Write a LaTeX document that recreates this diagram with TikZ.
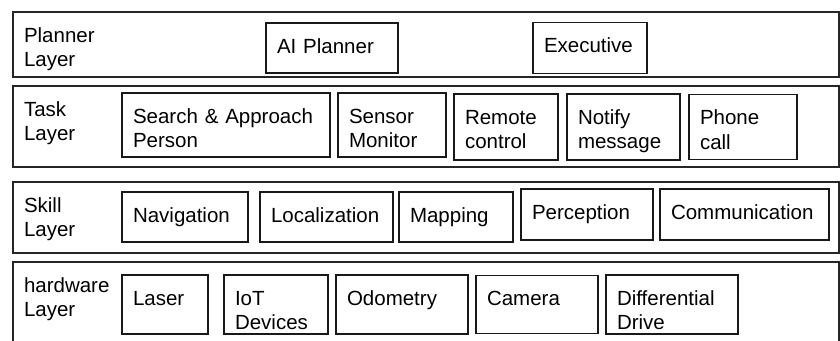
\documentclass[tikz,border=0pt]{standalone}
\usepackage{fontspec}
\setmainfont{Liberation Sans}
\usetikzlibrary{positioning}
\tikzset{layer node/.style={draw=black!85, line width=1.5pt, anchor=north west, inner xsep=11pt, inner ysep=0pt, outer sep=0pt, align=left, text width=804pt, text height=30pt},
         part node/.style 2 args={draw=black!90, line width=1.5pt, inner xsep=11pt, inner ysep=0pt, outer sep=0pt, align=left, text height=30pt, text width=#1, text depth=#2},}

\begin{document}
\begin{tikzpicture}[x=1pt, y=-1pt, font=\fontsize{20.5}{24.5}\selectfont]
        \useasboundingbox (0,0) rectangle (840,340);
        \clip (0,0) rectangle (840,340);
        % Layers
        \node[layer node, text depth=35pt] (planner) at (13,12) {Planner\\Layer};
        \node[layer node, text depth=51pt] (task) at (13,86) {Task\\Layer};
        \node[layer node, text depth=41pt] (skill) at (13,182) {Skill\\Layer};
        \node[layer node, text depth=60pt] (hardware) at (13,262) {hardware\\Layer};
        % Planner layer
        \node[part node={110pt}{20pt}, anchor=north west] (aiplanner) at (266,23) {AI Planner};
        \node[part node={92pt}{21pt}] [right = 135pt of aiplanner] (executive) {Executive};
        % Task layer
        \node[part node={186pt}{34pt}, anchor=north west] (search) at (122,93) {Search~\&~Approach\\Person};
        \node[part node={86pt}{34pt}] [right = 8pt of search] (sensor) {Sensor\\Monitor};
        \node[part node={82pt}{36pt}] [right = 8pt of sensor, yshift=-2pt] (remote) {Remote\\control};
        \node[part node={91pt}{36pt}] [right = 9pt of remote] (notify) {Notify\\message};
        \node[part node={86pt}{35pt}] [right = 9pt of notify] (phone) {Phone\\call};
        % Skill layer
        \node[part node={104pt}{20pt}, anchor=north west] (navigation) at (122,192) {Navigation};
        \node[part node={111pt}{20pt}] [right = 12pt of navigation] (localization) {Localization};
        \node[part node={92pt}{20pt}] [right = 6pt of localization] (mapping) {Mapping};
        \node[part node={110pt}{21pt}] [right = 8pt of mapping, yshift=2.5pt] (perception) {Perception};
        \node[part node={147pt}{21pt}] [right = 7pt of perception] (communication) {Communication};
        % Hardware layer
        \node[part node={64pt}{29pt}, anchor=north west] (laser) at (122,275) {Laser};
        \node[part node={82pt}{29pt}] [right = 16pt of laser] (iot) {IoT\\Devices};
        \node[part node={110pt}{29pt}] [right = 8pt of iot] (odometry) {Odometry};
        \node[part node={100pt}{28pt}] [right = 8pt of odometry] (camera) {Camera};
        \node[part node={110pt}{29pt}] [right = 8pt of camera] (drive) {Differential\\Drive};
    \end{tikzpicture}
\end{document}
